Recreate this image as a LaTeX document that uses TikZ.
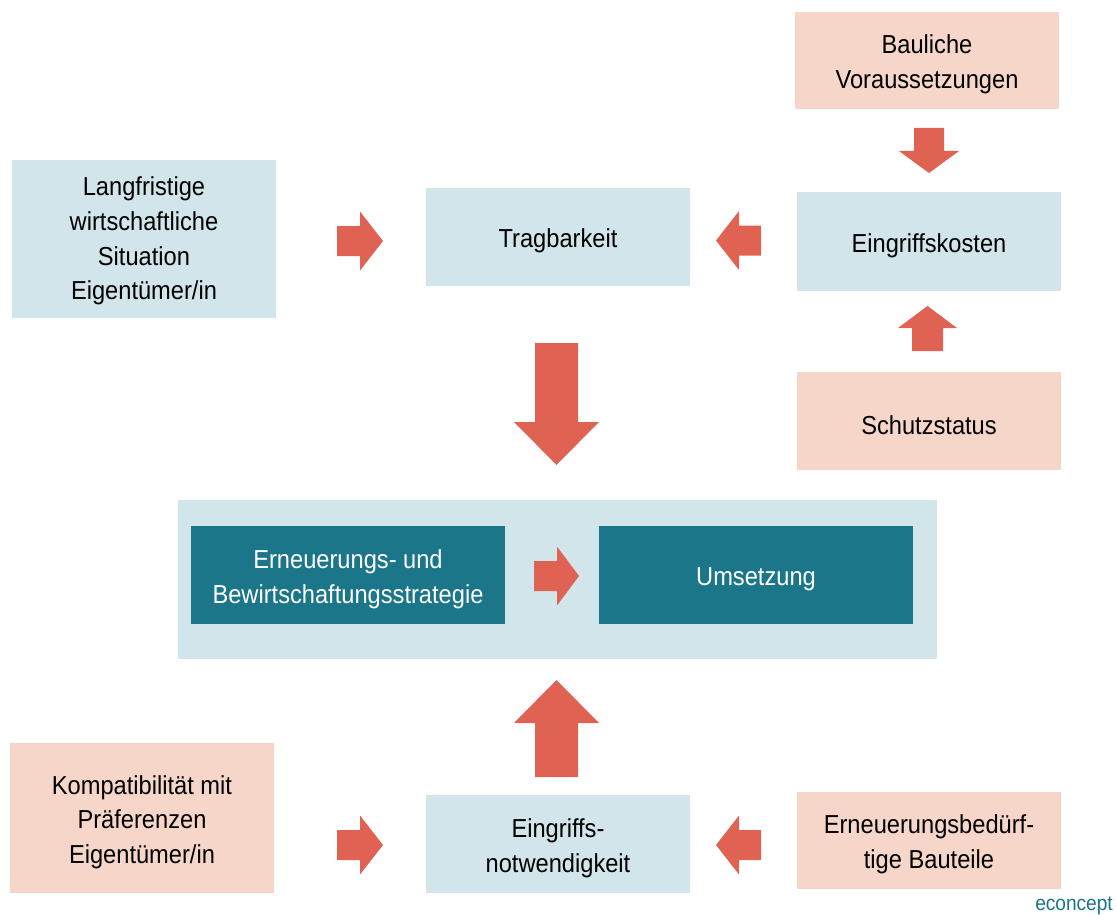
\documentclass[tikz,border=0pt]{standalone}
\usepackage{fontspec}
\setmainfont{Liberation Sans}[FakeStretch=0.91]
\usepackage{tikz}

\definecolor{boxblue}{HTML}{D2E5EA}
\definecolor{boxrose}{HTML}{F7D6CA}
\definecolor{boxteal}{HTML}{1A7688}
\definecolor{arrowred}{HTML}{E06253}

\tikzset{
    base/.style={minimum width=264pt, minimum height=98pt, inner sep=0pt},
    blue/.style={base, fill=boxblue},
    rose/.style={base, fill=boxrose},
    dark/.style={base, fill=boxteal, minimum width=314pt},
    txt/.style={yshift=-4pt, align=center, inner sep=0pt,
        font=\fontsize{26}{34.7}\selectfont},
    wtxt/.style={txt, text=white},
}
% tail point, rotation, length, head length, half shaft, half head
\newcommand{\blockarrow}[6]{%
    \fill[arrowred, shift={#1}, rotate=#2] (0,-#5) -- ({#3-#4},-#5) -- ({#3-#4},-#6)
        -- (#3,0) -- ({#3-#4},#6) -- ({#3-#4},#5) -- (0,#5) -- cycle;}

\begin{document}
\begin{tikzpicture}[x=1pt, y=-1pt]
    \useasboundingbox (0,0) rectangle (1117,915);

    \node[blue, minimum width=759pt, minimum height=159pt] (frame) at (557.5,579.5) {};

    \node[rose, minimum height=97pt, label={[txt]center:{Bauliche\\Voraussetzungen}}] (bau) at (927,60.5) {};
    \node[blue, minimum height=158pt, label={[txt, yshift=2pt]center:{Langfristige\\wirtschaftliche\\Situation\\Eigentümer/in}}] (lang) at (144,239) {};
    \node[blue, label={[txt]center:Tragbarkeit}] (trag) at (558,237) {};
    \node[blue, minimum height=99pt, label={[txt]center:Eingriffskosten}] (kost) at (929,241.5) {};
    \node[rose, label={[txt]center:Schutzstatus}] (schutz) at (929,421) {};
    \node[dark, label={[wtxt]center:{Erneuerungs- und\\Bewirtschaftungsstrategie}}] (strat) at (348,575) {};
    \node[dark, label={[wtxt]center:Umsetzung}] (ums) at (756,575) {};
    \node[rose, minimum height=150pt, label={[txt]center:{Kompatibilität mit\\Präferenzen\\Eigentümer/in}}] (komp) at (142,818) {};
    \node[blue, label={[txt]center:{Eingriffs-\\notwendigkeit}}] (notw) at (558,844) {};
    \node[rose, minimum height=97pt, label={[txt]center:{Erneuerungsbedürf-\\tige Bauteile}}] (teile) at (929,840.5) {};
    \node[anchor=base east, inner sep=0pt, text=boxteal, font=\fontsize{21}{24}\selectfont] (logo) at (1113,910) {econcept};

    % arrows between the boxes
    \blockarrow{(337,241)}{0}{46}{23}{15}{29.5}
    \blockarrow{(761,240.5)}{180}{45}{23}{15}{29.5}
    \blockarrow{(929,128)}{-90}{45}{22}{15}{30}
    \blockarrow{(927.5,351)}{90}{45}{22}{15.5}{29.5}
    \blockarrow{(556.5,343)}{-90}{122}{43}{21.5}{42.5}
    \blockarrow{(534,576)}{0}{45}{22}{15}{29.5}
    \blockarrow{(556.5,777)}{90}{97}{43}{21.5}{42.5}
    \blockarrow{(337,845)}{0}{46}{23}{15}{29.5}
    \blockarrow{(761,845)}{180}{45}{23}{15}{29.5}
\end{tikzpicture}
\end{document}
